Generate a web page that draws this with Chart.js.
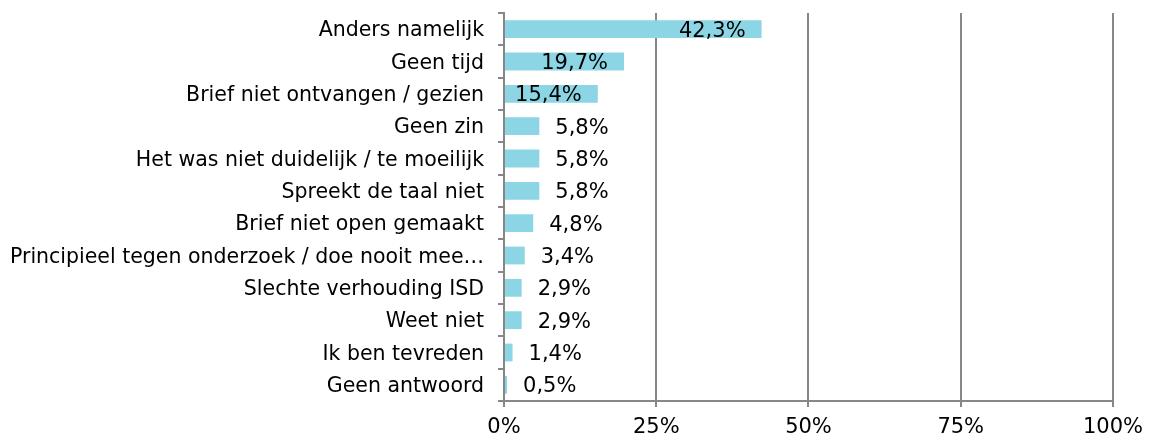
<!DOCTYPE html>
<html>
<head>
<meta charset="utf-8">
<script src="https://cdn.jsdelivr.net/npm/chart.js@4/dist/chart.umd.min.js"></script>
<style>
  html, body { margin: 0; padding: 0; background: #fff; }
  #wrap { width: 1151px; height: 441px; }
</style>
</head>
<body>
<div id="wrap"><canvas id="grafiek" width="1151" height="441"></canvas></div>
<script>
// Redenen (categorieen) en percentages
const redenen = [
  'Anders namelijk',
  'Geen tijd',
  'Brief niet ontvangen / gezien',
  'Geen zin',
  'Het was niet duidelijk / te moeilijk',
  'Spreekt de taal niet',
  'Brief niet open gemaakt',
  'Principieel tegen onderzoek / doe nooit mee…',
  'Slechte verhouding ISD',
  'Weet niet',
  'Ik ben tevreden',
  'Geen antwoord'
];
const percentages = [42.3, 19.7, 15.4, 5.8, 5.8, 5.8, 4.8, 3.4, 2.9, 2.9, 1.4, 0.5];
const asTicks = [0, 25, 50, 75, 100];

const grijs = '#878787';
const lettertype = 'DejaVu Sans, Verdana, sans-serif';
const grootte = 21;

// eigen plugin voor de labels bij de balken (geen datalabels plugin beschikbaar)
const balkLabels = {
  id: 'balkLabels',
  afterDatasetsDraw(chart) {
    const ctx = chart.ctx;
    const meta = chart.getDatasetMeta(0);
    ctx.save();
    ctx.font = grootte + 'px ' + lettertype;
    ctx.fillStyle = '#000';
    ctx.textBaseline = 'middle';
    meta.data.forEach((bar, i) => {
      const tekst = percentages[i].toFixed(1).replace('.', ',') + '%';
      const w = ctx.measureText(tekst).width;
      const breedte = bar.x - bar.base;
      if (breedte > w + 20) {
        ctx.textAlign = 'right';
        ctx.fillText(tekst, bar.x - 16, bar.y + 2);
      } else {
        ctx.textAlign = 'left';
        ctx.fillText(tekst, bar.x + 16, bar.y + 2);
      }
    });
    ctx.restore();
  }
};

new Chart(document.getElementById('grafiek'), {
  type: 'bar',
  data: {
    labels: redenen,
    datasets: [{
      data: percentages,
      backgroundColor: '#8cd5e5',
      barPercentage: 0.55,
      categoryPercentage: 1
    }]
  },
  options: {
    indexAxis: 'y',
    responsive: false,
    animation: false,
    layout: { padding: { top: 13, right: 38, left: 0, bottom: 0 } },
    plugins: {
      legend: { display: false },
      tooltip: { enabled: false }
    },
    scales: {
      x: {
        min: 0,
        max: 100,
        afterBuildTicks(scale) {
          scale.ticks = asTicks.map(v => ({ value: v }));
        },
        afterFit(scale) { scale.height = 40; },
        ticks: {
          color: '#000',
          font: { family: lettertype, size: grootte },
          padding: 8,
          callback: v => v + '%'
        },
        grid: { color: grijs, lineWidth: 2, tickLength: 6 },
        border: { color: grijs, width: 2 }
      },
      y: {
        afterFit(scale) {
          scale.width = 504;
          scale.paddingTop = 0;
          scale.paddingBottom = 0;
        },
        ticks: {
          color: '#000',
          font: { family: lettertype, size: 20.5 },
          padding: 14,
          labelOffset: 2,
          autoSkip: false
        },
        grid: { drawOnChartArea: false, color: grijs, lineWidth: 2, tickLength: 6, offset: true },
        border: { color: grijs, width: 2 }
      }
    }
  },
  plugins: [balkLabels]
});
</script>
</body>
</html>
